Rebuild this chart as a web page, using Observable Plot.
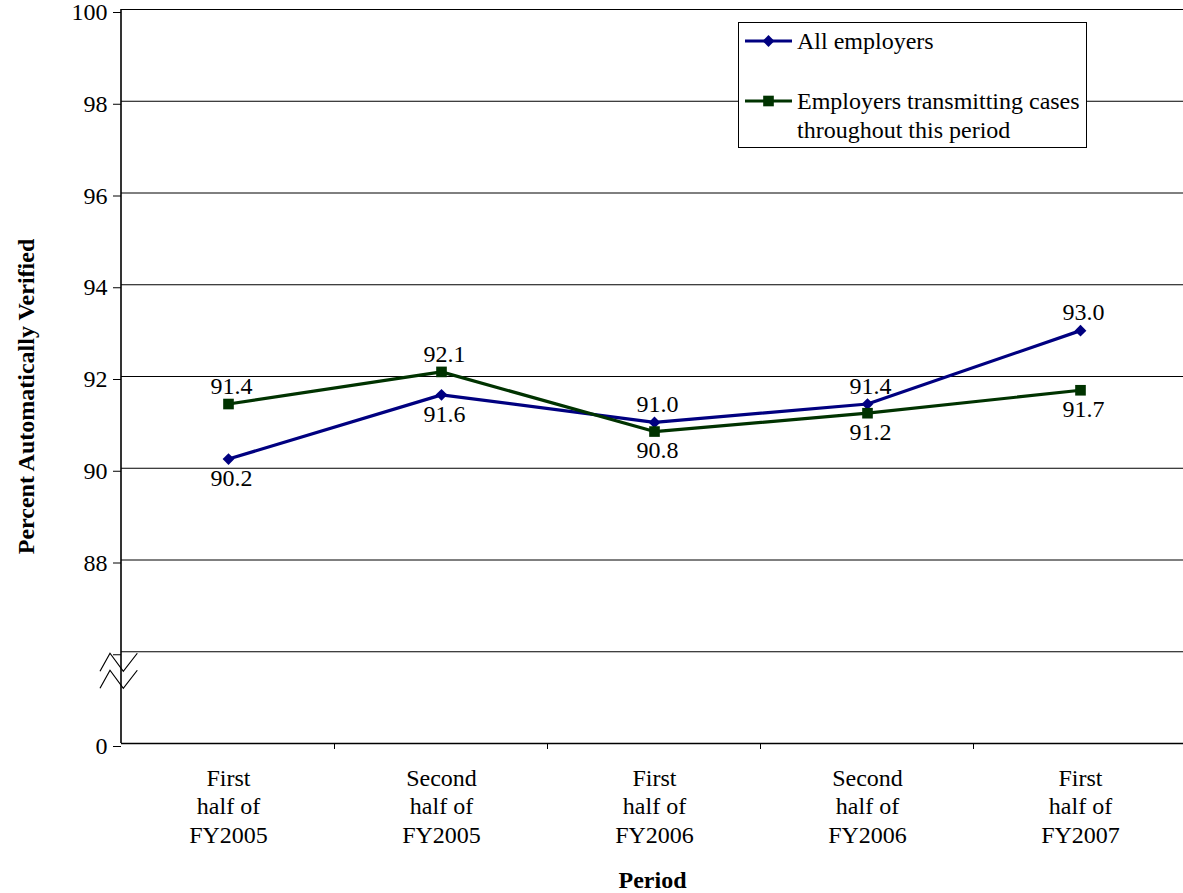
<!DOCTYPE html>
<html>
<head>
<meta charset="utf-8">
<script src="https://cdn.jsdelivr.net/npm/d3@7"></script>
<script src="https://cdn.jsdelivr.net/npm/@observablehq/plot@0.6"></script>
<style>
  body { margin: 0; background: #fff; }
  #chart svg, #chart svg text { font-family: "Liberation Serif", "Times New Roman", serif; }
</style>
</head>
<body>
<div id="chart"></div>
<script>
// ---- data ----
const periods = [
  "First\nhalf of\nFY2005",
  "Second\nhalf of\nFY2005",
  "First\nhalf of\nFY2006",
  "Second\nhalf of\nFY2006",
  "First\nhalf of\nFY2007"
];
const allEmployers = [90.2, 91.6, 91.0, 91.4, 93.0];
const transmitting = [91.4, 92.1, 90.8, 91.2, 91.7];
const seriesNames = ["All employers", "Employers transmitting cases\nthroughout this period"];
const yTicks = [84, 86, 88, 90, 92, 94, 96, 98, 100];
const yTickLabels = ["0", "", "88", "90", "92", "94", "96", "98", "100"];
const yTitle = "Percent Automatically Verified";
const xTitle = "Period";

// ---- table ----
const seriesValues = [allEmployers, transmitting];
const rows = [];
seriesValues.forEach((vals, s) => {
  vals.forEach((v, i) => {
    const other = seriesValues[1 - s][i];
    rows.push({period: periods[i], value: v, series: seriesNames[s], above: v > other});
  });
});
const colors = ["#000080", "#003300"];
const fontFamily = '"Liberation Serif", "Times New Roman", serif';
const fs = 24;

const chart = Plot.plot({
  width: 1183,
  height: 893,
  marginTop: 9,
  marginBottom: 150,
  marginLeft: 121,
  marginRight: 0,
  style: {fontSize: fs + "px", background: "white", color: "black", overflow: "visible"},
  x: {type: "point", domain: periods, range: [121, 1186], padding: 0.5, axis: null},
  y: {type: "linear", domain: [84, 100], axis: null},
  color: {domain: seriesNames, range: colors},
  marks: [
    Plot.ruleY(yTicks.slice(1), {stroke: "black", strokeWidth: 1}),
    Plot.ruleY([84], {stroke: "black", strokeWidth: 1.6}),
    Plot.axisY({
      ticks: yTicks,
      tickFormat: d => yTickLabels[yTicks.indexOf(d)],
      tickSize: 8,
      tickPadding: 6,
      fontSize: fs,
      fontFamily,
      stroke: "black",
      fill: "black",
      textStroke: null,
      dy: 3,
      label: null
    }),
    Plot.line(rows, {x: "period", y: "value", stroke: "series", strokeWidth: 3.2}),
    Plot.dot(rows.filter(d => d.series === seriesNames[0]), {x: "period", y: "value", fill: colors[0], symbol: "diamond2", r: 5.3, stroke: null}),
    Plot.dot(rows.filter(d => d.series === seriesNames[1]), {x: "period", y: "value", fill: colors[1], symbol: "square", r: 6, stroke: null}),
    Plot.text(rows.filter(d => d.above), {x: "period", y: "value", text: d => d.value.toFixed(1), dy: -18, dx: 3, fill: "black", fontSize: fs, fontFamily}),
    Plot.text(rows.filter(d => !d.above), {x: "period", y: "value", text: d => d.value.toFixed(1), dy: 19, dx: 3, fill: "black", fontSize: fs, fontFamily}),
    Plot.text(periods, {x: d => d, text: d => d, frameAnchor: "bottom", lineAnchor: "top", textAnchor: "middle", dy: 22, lineHeight: 1.19, fill: "black", fontSize: fs, fontFamily}),
    Plot.text([yTitle], {text: d => d, frameAnchor: "left", textAnchor: "middle", lineAnchor: "middle", rotate: -90, dx: -95, dy: 20, fontWeight: "bold", fill: "black", fontSize: fs, fontFamily}),
    Plot.text([xTitle], {text: d => d, frameAnchor: "bottom", textAnchor: "middle", lineAnchor: "middle", dy: 137, fontWeight: "bold", fill: "black", fontSize: fs, fontFamily})
  ]
});

document.getElementById("chart").appendChild(chart);

// ---- decorations drawn from the scales ----
const svg = d3.select(chart);
const xs = chart.scale("x");
const ys = chart.scale("y");
const left = 121;
const yTop = ys.apply(100), yBot = ys.apply(84);
const step = xs.apply(periods[1]) - xs.apply(periods[0]);

// y axis line
svg.append("line").attr("x1", left).attr("x2", left).attr("y1", yTop).attr("y2", yBot)
  .attr("stroke", "black").attr("stroke-width", 1.6);
// x axis tick marks at band boundaries
periods.slice(0, -1).forEach(p => {
  const x = xs.apply(p) + step / 2;
  svg.append("line").attr("x1", x).attr("x2", x).attr("y1", yBot).attr("y2", yBot + 6)
    .attr("stroke", "black").attr("stroke-width", 1);
});
// axis break symbol
const yb = ys.apply(86);
[0, 17].forEach(off => {
  svg.append("polyline")
    .attr("points", [[-21, 20], [-11, 2], [2.3, 20], [16.3, 2]].map(([dx, dy]) => `${left + dx},${yb + dy + off}`).join(" "))
    .attr("fill", "none").attr("stroke", "black").attr("stroke-width", 1.2);
});

// legend
const lg = svg.append("g").attr("font-size", fs).style("font-family", fontFamily);
lg.append("rect").attr("x", 738.5).attr("y", 22.5).attr("width", 348).attr("height", 125)
  .attr("fill", "white").attr("stroke", "black").attr("stroke-width", 1);
const legendItems = [
  {name: seriesNames[0], color: colors[0], sym: d3.symbolDiamond2, size: 5.3 * 5.3 * Math.PI, y: 41},
  {name: seriesNames[1], color: colors[1], sym: d3.symbolSquare, size: 6 * 6 * Math.PI, y: 101}
];
legendItems.forEach(it => {
  lg.append("line").attr("x1", 745).attr("x2", 792).attr("y1", it.y).attr("y2", it.y)
    .attr("stroke", it.color).attr("stroke-width", 3.2);
  lg.append("path").attr("d", d3.symbol(it.sym, it.size)()).attr("transform", `translate(768.5,${it.y})`)
    .attr("fill", it.color);
  const t = lg.append("text").attr("x", 797).attr("y", it.y + 8).attr("fill", "black")
    .attr("text-anchor", "start").style("font-family", fontFamily);
  it.name.split("\n").forEach((line, i) => {
    t.append("tspan").attr("x", 797).attr("dy", i === 0 ? 0 : 28.5).text(line);
  });
});
</script>
</body>
</html>
